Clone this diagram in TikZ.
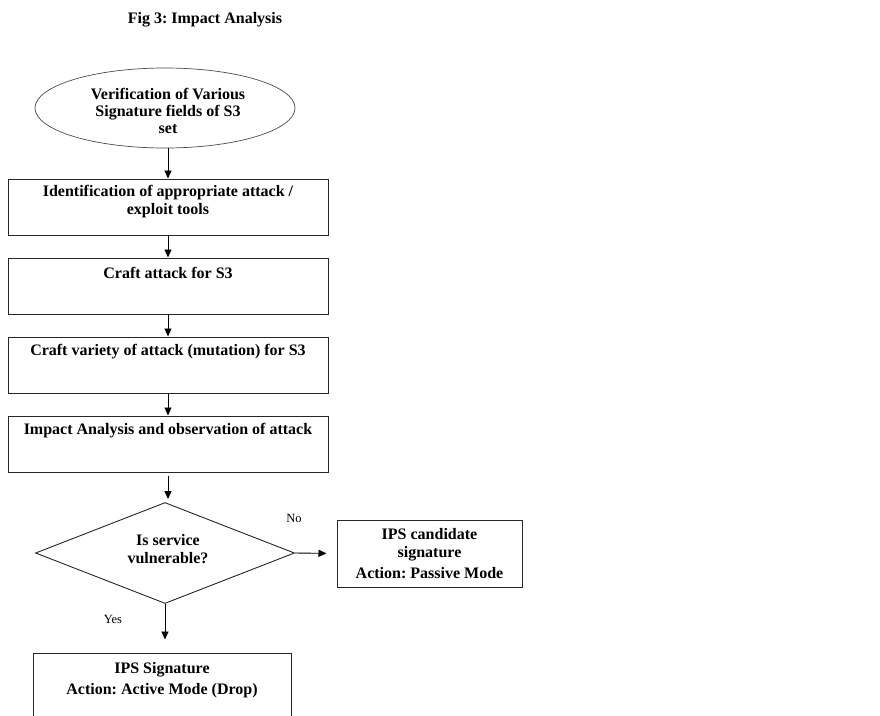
\documentclass[tikz,border=0pt]{standalone}
\usepackage{fontspec}
\setmainfont{Liberation Serif}
\usetikzlibrary{shapes.geometric,arrows.meta}
\frenchspacing
\begin{document}
\begin{tikzpicture}[x=1pt,y=-1pt,
  box/.style={draw=black!85, line width=1pt, rectangle, inner sep=0},
  txt/.style={font=\fontsize{16}{18}\selectfont\bfseries, align=center, inner sep=0},
  flow/.style={draw, line width=0.9pt, -{Triangle[length=8pt,width=7pt]}},
  small/.style={font=\fontsize{12.5}{14}\selectfont, inner sep=0}]
\clip (0,0) rectangle (880,715);
\fill[white] (0,0) rectangle (880,715);

% title
\node[font=\fontsize{16}{18}\selectfont\bfseries] (title) at (205,20) {Fig 3: Impact Analysis};

% start ellipse
\node[ellipse, draw=black!70, line width=0.7pt, minimum width=260, minimum height=80, inner sep=0] (start) at (165,108) {};
\node[txt, font=\fontsize{16}{17}\selectfont\bfseries] (startt) at (168,111) {Verification of Various\\Signature fields of S3\\set};

% process boxes
\node[box, minimum width=320, minimum height=56] (b1) at (168,207) {};
\node[txt] (b1t) at (168,202) {Identification of appropriate attack /\\exploit tools};
\node[box, minimum width=320, minimum height=56] (b2) at (168,286) {};
\node[txt] (b2t) at (168,273) {Craft attack for S3};
\node[box, minimum width=320, minimum height=56] (b3) at (168,365) {};
\node[txt] (b3t) at (168,352) {Craft variety of attack (mutation) for S3};
\node[box, minimum width=320, minimum height=56] (b4) at (168,444) {};
\node[txt] (b4t) at (168,431) {Impact Analysis and observation of attack};

% decision
\node[diamond, draw=black!85, line width=0.9pt, minimum width=259, minimum height=101, inner sep=0] (dia) at (165,553) {};
\node[txt] (diat) at (168,549) {Is service\\vulnerable?};

% outcomes
\node[box, minimum width=185, minimum height=67] (pass) at (429.5,553.5) {};
\node[txt] (passt) at (429.5,554) {IPS candidate\\signature\\[3pt]Action: Passive Mode};
\node[box, minimum width=258, minimum height=100] (act) at (162,703) {};
\node[txt] (actt) at (162,680) {IPS Signature\\[3pt]Action: Active Mode (Drop)};

% connectors
\draw[flow] (b1.north |- start.south) -- (b1.north);
\draw[flow] (b1.south) -- (b2.north);
\draw[flow] (b2.south) -- (b3.north);
\draw[flow] (b3.south) -- (b4.north);
\draw[flow] ([yshift=-3pt]b4.south) -- ([yshift=3pt]b4.south |- dia.north);
\draw[flow, shorten >=10pt] (dia.east) -- (pass.west);
\draw[flow, shorten >=13pt] (dia.south) -- (dia.south |- act.north);

% branch labels
\node[small] (no) at (294,518) {No};
\node[small] (yes) at (113,619) {Yes};
\end{tikzpicture}
\end{document}
